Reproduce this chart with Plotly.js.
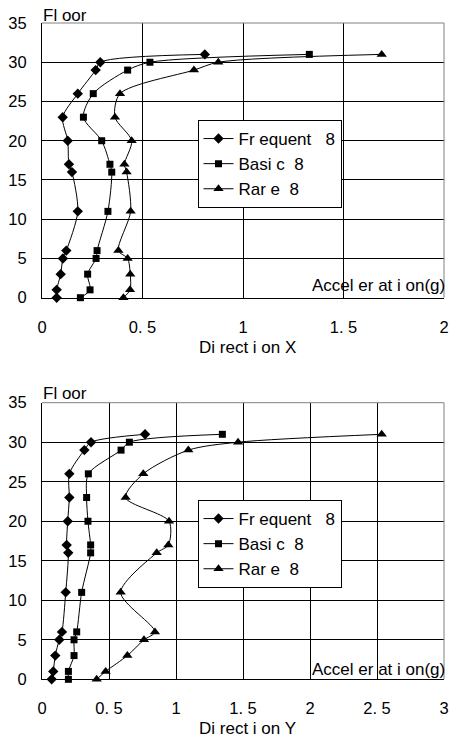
<!DOCTYPE html>
<html>
<head>
<meta charset="utf-8">
<script src="https://cdn.plot.ly/plotly-3.0.1.min.js"></script>
<style>html,body{margin:0;padding:0;background:#fff;}#chart{width:452px;height:737px;}</style>
</head>
<body>
<div id="chart"></div>
<script>
// Floors (shared by all series)
var floors = [31, 30, 29, 26, 23, 20, 17, 16, 11, 6, 5, 3, 1, 0];

// Direction X accelerations (g)
var xFrequent = [0.81, 0.29, 0.267, 0.178, 0.103, 0.128, 0.134, 0.149, 0.178, 0.121, 0.104, 0.093, 0.073, 0.073];
var xBasic    = [1.33, 0.537, 0.426, 0.255, 0.206, 0.297, 0.338, 0.347, 0.328, 0.274, 0.269, 0.227, 0.239, 0.191];
var xRare     = [1.69, 0.877, 0.756, 0.388, 0.363, 0.446, 0.41, 0.421, 0.441, 0.38, 0.426, 0.439, 0.438, 0.405];

// Direction Y accelerations (g)
var yFrequent = [0.769, 0.366, 0.316, 0.204, 0.204, 0.192, 0.184, 0.196, 0.177, 0.149, 0.129, 0.099, 0.084, 0.072];
var yBasic    = [1.346, 0.652, 0.59, 0.346, 0.333, 0.343, 0.363, 0.363, 0.296, 0.259, 0.239, 0.239, 0.197, 0.197];
var yRare     = [2.535, 1.463, 1.092, 0.756, 0.624, 0.948, 0.943, 0.856, 0.587, 0.843, 0.761, 0.637, 0.475, 0.408];

var seriesNames = ['Fr equent \u00a0 8', 'Basi c \u00a08', 'Rar e \u00a08'];

var xTickVals1 = [0, 0.5, 1, 1.5, 2];
var xTickText1 = ['0', '0. 5', '1', '1. 5', '2'];
var xTickVals2 = [0, 0.5, 1, 1.5, 2, 2.5, 3];
var xTickText2 = ['0', '0. 5', '1', '1. 5', '2', '2. 5', '3'];
var yTickVals = [0, 5, 10, 15, 20, 25, 30, 35];

var FONT = 'Liberation Sans, Arial, sans-serif';
var symbols = ['diamond', 'square', 'triangle-up'];
var sizes = [8, 7, 9];

function mk(xs, i, xa, ya, lg) {
  return {
    x: xs, y: floors, xaxis: xa, yaxis: ya, legend: lg,
    name: seriesNames[i], type: 'scatter', mode: 'lines+markers',
    line: {color: '#000', width: 1, shape: 'spline', smoothing: 0.8},
    marker: {symbol: symbols[i], size: sizes[i], color: '#000'},
    cliponaxis: false
  };
}

var data = [
  mk(xFrequent, 0, 'x', 'y', 'legend'),
  mk(xBasic, 1, 'x', 'y', 'legend'),
  mk(xRare, 2, 'x', 'y', 'legend'),
  mk(yFrequent, 0, 'x2', 'y2', 'legend2'),
  mk(yBasic, 1, 'x2', 'y2', 'legend2'),
  mk(yRare, 2, 'x2', 'y2', 'legend2')
];

var W = 452, H = 737;
var xd = [42 / W, 444 / W];
var yd1 = [1 - 297.7 / H, 1 - 23 / H];
var yd2 = [1 - 679.3 / H, 1 - 402.7 / H];

function xax(range, tv, tt, anchor) {
  return {
    domain: xd, range: range, anchor: anchor,
    tickmode: 'array', tickvals: tv, ticktext: tt,
    showgrid: true, gridcolor: '#000', gridwidth: 1, zeroline: false,
    showline: true, linecolor: '#000', linewidth: 1,
    ticks: 'outside', ticklen: 14, tickcolor: 'rgba(0,0,0,0)',
    tickfont: {family: FONT, size: 16.5, color: '#000'}, fixedrange: true
  };
}
function yax(domain, anchor) {
  return {
    domain: domain, range: [0, 35], anchor: anchor,
    tickmode: 'array', tickvals: yTickVals,
    showgrid: true, gridcolor: '#000', gridwidth: 1, zeroline: false,
    showline: true, linecolor: '#000', linewidth: 1,
    ticks: 'outside', ticklen: 11, tickcolor: 'rgba(0,0,0,0)',
    tickfont: {family: FONT, size: 16.5, color: '#000'}, fixedrange: true
  };
}

function legendCfg(top) {
  return {
    x: 197.5 / W, y: 1 - top / H, xanchor: 'left', yanchor: 'top',
    bgcolor: '#fff', bordercolor: '#000', borderwidth: 1,
    font: {family: FONT, size: 17, color: '#000'},
    itemwidth: 30, tracegroupgap: 0
  };
}

function border(xr, yr) {
  return [
    {type: 'line', xref: xr + ' domain', yref: yr + ' domain', x0: 0, x1: 1, y0: 1, y1: 1, line: {color: '#808080', width: 1}, layer: 'above'},
    {type: 'line', xref: xr + ' domain', yref: yr + ' domain', x0: 1, x1: 1, y0: 0, y1: 1, line: {color: '#808080', width: 1}, layer: 'above'}
  ];
}

function ann(text, x, y, xanchor) {
  return {text: text, xref: 'paper', yref: 'paper', x: x / W, y: 1 - y / H,
    xanchor: xanchor, yanchor: 'middle', showarrow: false,
    font: {family: FONT, size: 17, color: '#000'}};
}

var layout = {
  width: W, height: H,
  margin: {l: 0, r: 0, t: 0, b: 0},
  paper_bgcolor: '#fff', plot_bgcolor: '#fff',
  showlegend: true,
  xaxis: xax([0, 2], xTickVals1, xTickText1, 'y'),
  yaxis: yax(yd1, 'x'),
  xaxis2: xax([0, 3], xTickVals2, xTickText2, 'y2'),
  yaxis2: yax(yd2, 'x2'),
  legend: legendCfg(120),
  legend2: legendCfg(500),
  shapes: border('x', 'y').concat(border('x2', 'y2')),
  annotations: [
    ann('Fl oor', 41, 15, 'left'),
    ann('Accel er at i on(g)', 447, 285, 'right'),
    ann('Di rect i on X', 247, 347, 'center'),
    ann('Fl oor', 41, 393, 'left'),
    ann('Accel er at i on(g)', 447, 669, 'right'),
    ann('Di rect i on Y', 247, 728, 'center')
  ]
};

Plotly.newPlot('chart', data, layout, {staticPlot: true, displayModeBar: false});
</script>
</body>
</html>
